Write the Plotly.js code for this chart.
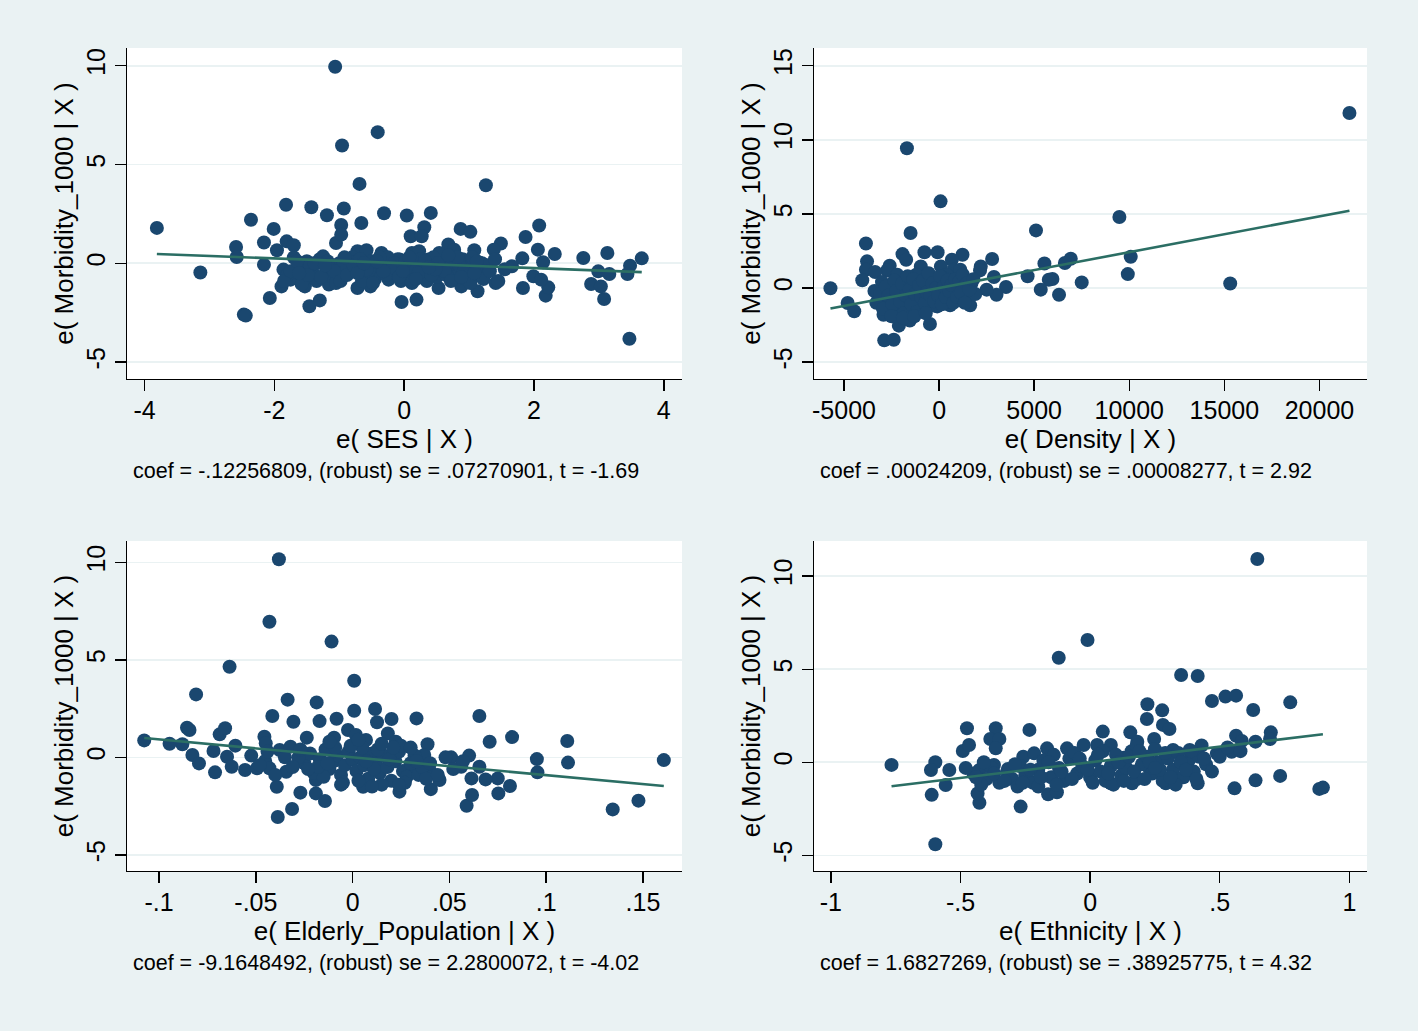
<!DOCTYPE html>
<html><head><meta charset="utf-8">
<script src="https://cdn.plot.ly/plotly-3.0.1.min.js"></script>
<style>html,body{margin:0;padding:0;background:#eaf2f3;}#chart{width:1418px;height:1031px;}</style>
</head><body><div id="chart"></div>
<script>
// ---- Panel 1: e(SES | X)
const sesX = [-1.063,-0.408,-0.957,-0.688,1.259,-3.81,-3.14,-2.47,-2.44,3.47,-1.82,-1.43,-1.19,-0.93,-2.36,-2.01,-0.97,-0.66,-0.31,0.04,0.41,0.31,0.10,0.27,0.87,1.02,2.08,1.87,-2.16,-2.59,-2.58,-2.16,-1.96,-1.81,-1.70,-2.07,-1.46,-1.30,-0.04,0.19,0.53,1.83,2.18,2.22,3.08,2.88,3.03,2.76,3.13,3.66,3.48,3.44,3.16,2.99,2.32,2.06,1.82,1.66,1.99,2.11,2.14,1.49,1.38,1.41,1.13,0.88,1.08,0.68,0.77,1.16,-0.72,-0.52,-0.24,-1.89,-1.75,-1.86,-1.53,-1.16,-1.05,-0.97,-0.72,-0.58,-0.35,-0.07,0.12,0.23,0.37,0.54,
-1.6,-1.5,-1.4,-1.3,-1.2,-1.1,-1.0,-0.9,-0.8,-0.7,-0.6,-0.5,-0.4,-0.3,-0.2,-0.1,0.0,0.1,0.2,0.3,0.4,0.5,0.6,0.7,0.8,0.9,1.0,1.1,1.2,-1.55,-1.35,-1.25,-1.05,-0.85,-0.65,-0.45,-0.25,-0.05,0.15,0.35,0.45,0.65,0.75,0.95,1.05,1.25,-1.7,-1.45,-0.95,-0.55,-0.15,0.25,0.55,0.85,1.15,-1.8,1.3,1.4,
-1.85,-1.75,-1.65,-1.58,-1.48,-1.38,-1.28,-1.18,-1.08,-0.98,-0.88,-0.78,-0.68,-0.58,-0.48,-0.38,-0.28,-0.18,-0.08,0.02,0.12,0.22,0.32,0.42,0.52,0.62,0.72,0.82,0.92,1.02,1.12,1.22,1.32,1.45,1.55,-1.22,-0.72,-0.32,0.08,0.48,0.88,-0.42,-0.92,0.18,0.68,1.08,-1.62,-0.02,0.38,-0.62];
const sesY = [9.95,6.64,5.96,4.02,3.95,1.79,-0.47,-2.60,-2.65,-3.82,2.96,2.84,2.43,2.77,2.20,1.74,1.94,2.04,2.53,2.42,2.55,1.82,1.37,1.37,1.74,1.59,1.91,1.33,1.05,0.83,0.32,-0.07,0.66,1.11,0.91,-1.76,-2.18,-1.88,-1.96,-1.84,-1.25,-1.25,-1.64,-1.22,-1.81,-1.05,-1.17,0.27,0.52,0.25,-0.12,-0.54,-0.54,-0.41,0.47,0.69,0.25,-0.15,-0.66,-0.83,0.05,1.00,0.69,-1.00,-1.42,-1.17,0.66,0.95,0.69,0.02,-1.25,-1.17,-0.83,-1.17,-0.83,-0.32,-1.17,-1.08,1.03,1.45,0.61,0.66,0.52,0.19,0.52,0.61,0.19,0.52,
-0.2,0.1,-0.5,0.2,-0.3,-0.7,0.0,-0.4,0.3,-0.2,-0.6,0.1,-0.3,-0.1,-0.5,0.2,-0.2,-0.6,0.0,-0.4,-0.1,-0.7,0.1,-0.3,-0.5,0.2,-0.2,-0.6,0.0,-0.8,-0.9,0.35,-1.0,0.1,-0.9,-0.8,0.3,-0.9,-0.3,-0.9,0.3,-0.6,0.0,-0.8,0.3,-0.5,0.3,-0.1,-0.2,-0.4,0.0,0.2,-0.2,-0.1,-0.3,-0.6,-0.1,0.2,
-0.9,-0.4,0.1,-1.05,-0.6,0.0,-0.7,0.1,-0.4,-0.9,-0.6,-0.1,0.2,-0.3,-1.0,0.3,-0.6,-0.2,-0.7,0.1,-1.0,-0.5,0.1,-0.6,0.0,-0.4,-0.9,0.3,-0.4,-1.0,0.1,-0.8,-0.4,-0.9,-0.3,-0.1,-0.5,-0.4,0.3,-0.3,-0.7,0.1,0.3,-0.8,0.4,-0.5,-0.5,-0.4,-0.2,0.0];
const sesFitX = [-3.81, 3.66];
const sesFitY = [0.47, -0.45];

// ---- Panel 2: e(Density | X)
const denX = [21577,-1692,77,9481,5096,-1500,-3846,15307,10077,9923,7500,6923,6615,5538,5961,5769,5346,6307,4654,3519,3019,2884,2788,2192,2153,1231,-77,-769,-1923,-1731,-2596,-2731,-3788,-3846,-3365,-4038,-5712,-4808,-4461,-2884,-2384,-2115,-1538,-481,-2923,1634,577,-96,673,769,1115,-961,96,2500,
-3200,-2900,-2700,-2500,-2300,-2100,-1900,-1700,-1500,-1300,-1100,-900,-700,-500,-300,-100,100,300,500,700,900,1100,1300,1500,1700,-2600,-2000,-1400,-800,-200,400,1000,-1800,-1200,-600,0,600,1200,-3000,-2200,-1600,-1000,-400,200,800,1400,1900,-3400,-2400,-1000,
-3300,-3100,-2950,-2800,-2650,-2450,-2350,-2250,-2050,-1950,-1850,-1750,-1650,-1550,-1450,-1350,-1250,-1150,-1050,-950,-850,-750,-650,-550,-450,-350,-250,-150,-50,50,150,250,350,450,550,650,750,850,950,1050,1150,1250,1350,1450,1600,1800,-2500,-1900,-1300,-700];
const denY = [11.81,9.43,5.85,4.79,3.89,3.71,3.01,0.31,2.11,0.94,0.38,1.98,1.69,1.66,0.61,0.56,-0.11,-0.45,0.79,0.07,-0.45,0.74,1.96,1.46,1.19,2.25,2.41,2.41,2.29,1.91,1.51,1.19,1.80,1.24,1.08,0.52,-0.02,-1.01,-1.57,-3.53,-3.49,-2.54,-2.20,-2.43,-1.80,-1.17,-1.17,-1.24,1.91,1.24,1.24,1.46,1.46,-0.11,
-0.8,-0.3,-1.2,0.2,-0.6,-1.4,0.6,-0.2,-0.9,0.3,-0.5,-1.3,0.8,0.0,-0.7,0.5,-0.3,-1.0,0.4,-0.4,0.1,-0.8,0.6,-0.2,0.3,-0.9,0.0,-1.5,-0.1,-1.2,0.9,-0.1,-0.7,0.9,-0.8,0.2,-0.9,0.1,0.4,0.9,0.4,-0.2,0.6,0.7,-0.5,-0.6,-0.4,-0.2,-1.6,-1.0,
-1.0,-0.4,-1.4,0.1,-0.5,-1.1,0.5,-0.2,-0.9,0.3,-1.7,-0.5,0.8,-0.1,-1.1,0.6,-0.4,-1.6,0.2,-0.6,0.5,-1.0,-0.3,1.0,-0.5,0.3,-0.9,0.0,-0.5,0.8,-1.1,0.1,-0.6,0.5,-0.2,0.2,-1.0,0.6,-0.6,0.4,-0.3,0.9,-1.0,0.3,-0.1,0.6,-1.9,-2.0,-1.9,-1.7];
const denFitX = [-5712, 21577];
const denFitY = [-1.38, 5.22];

// ---- Panel 3: e(Elderly_Population | X)
const eldX = [-0.0381,-0.0430,-0.0109,-0.0636,0.0008,-0.0809,-0.0336,-0.0186,0.0008,0.0116,-0.0415,-0.0306,-0.0171,-0.0083,0.0126,0.0201,0.0330,0.0655,0.0824,0.0708,0.1109,0.1113,0.0952,0.0955,0.1608,0.1344,0.1477,0.0813,0.0753,0.0750,0.0589,0.0617,0.0614,0.0602,0.0655,0.0687,0.0509,0.0561,0.0387,0.0370,0.0402,0.0404,-0.0387,-0.0313,-0.0392,-0.0270,-0.0190,-0.0143,-0.1077,-0.0946,-0.0880,-0.0856,-0.0843,-0.0828,-0.0794,-0.0719,-0.0711,-0.0687,-0.0659,-0.0606,-0.0649,-0.0625,-0.0556,-0.0524,-0.0494,-0.0456,-0.0449,-0.0452,-0.0430,-0.0377,-0.0343,-0.0321,-0.0237,-0.0190,-0.0096,-0.0024,0.0017,0.0069,0.0182,0.0223,0.0242,0.0054,0.0298,0.0449,
-0.025,-0.022,-0.020,-0.017,-0.014,-0.012,-0.010,-0.008,-0.006,-0.004,-0.002,0.000,0.002,0.004,0.006,0.008,0.010,0.012,0.014,0.016,0.018,0.020,0.022,0.024,0.026,0.028,0.030,0.032,0.034,0.036,-0.015,-0.005,0.005,0.015,0.025,-0.018,-0.001,0.011,0.019,0.027,-0.023,-0.009,0.003,0.013,0.033,-0.028,-0.013,0.007,0.021,0.038,
-0.048,-0.044,-0.040,-0.035,-0.031,-0.027,0.040,0.044,0.048,0.052,0.057,0.030,0.024,0.010,-0.006,0.015,-0.012,0.003];
const eldY = [10.16,6.96,5.94,4.65,3.93,3.23,2.96,2.82,2.39,2.48,2.12,1.83,1.86,1.98,1.80,1.97,2.00,2.12,1.04,0.80,0.84,-0.27,-0.09,-0.77,-0.14,-2.67,-2.22,-1.47,-1.85,-1.08,-2.48,-1.93,-1.08,0.09,-0.48,-1.13,0.00,-0.48,0.67,0.12,-0.74,-1.63,-3.06,-2.65,-1.51,-1.81,-1.85,-2.24,0.87,0.70,0.67,1.52,1.40,0.12,-0.31,0.33,-0.77,1.18,1.49,0.60,0.03,-0.48,-0.65,0.09,-0.56,1.06,0.72,-0.19,-0.56,0.38,-0.74,0.55,1.01,-1.16,1.01,1.40,1.15,0.89,1.23,0.80,-1.76,-1.51,-0.48,-1.16,
-0.3,0.2,-0.8,-0.1,0.4,-0.6,-0.2,0.1,-0.9,-0.4,0.3,-0.1,-0.7,0.0,-0.4,-1.1,0.2,-0.3,-0.8,0.1,-0.5,-1.2,-0.2,0.3,-0.7,-1.0,-0.3,0.1,-0.9,-0.5,-1.0,-1.3,0.5,-1.4,0.6,-0.5,0.6,-0.6,-0.1,-1.3,-0.6,0.5,-1.2,0.4,-0.2,0.0,-0.3,-0.2,0.5,-1.1,
-0.4,0.3,-0.9,0.0,-0.5,0.4,-0.3,-0.9,0.0,-0.6,-0.2,0.5,-1.4,-1.5,-1.4,0.7,0.8,0.9];
const eldFitX = [-0.1077, 0.1608];
const eldFitY = [0.99, -1.47];

// ---- Panel 4: e(Ethnicity | X)
const ethX = [0.645,-0.010,-0.121,0.351,0.415,0.470,0.522,0.563,0.772,0.629,0.221,0.219,0.278,0.281,0.306,0.155,0.049,0.080,0.563,0.585,0.697,0.694,0.638,0.430,0.447,0.415,0.557,0.638,0.733,0.884,0.898,0.546,-0.766,-0.597,-0.614,-0.597,-0.611,-0.557,-0.543,-0.475,-0.491,-0.467,-0.364,-0.385,-0.350,-0.364,-0.234,-0.427,-0.434,-0.268,-0.162,-0.128,-0.166,-0.089,-0.025,0.027,-0.258,-0.216,-0.427,-0.371,-0.317,0.080,0.162,0.292,0.331,0.182,0.247,0.320,0.384,0.489,0.130,0.228,0.377,
-0.45,-0.40,-0.38,-0.35,-0.32,-0.30,-0.27,-0.25,-0.22,-0.20,-0.18,-0.15,-0.12,-0.10,-0.08,-0.05,-0.03,0.00,0.02,0.04,0.06,0.08,0.10,0.12,0.14,0.16,0.18,0.20,0.22,0.24,0.26,0.28,0.30,0.32,0.34,0.36,0.38,0.40,-0.28,-0.42,-0.06,0.09,0.25,0.33,0.18,-0.14,0.42,0.05,-0.20,0.27,
-0.48,-0.44,-0.41,-0.37,-0.33,-0.29,-0.26,-0.23,-0.19,-0.16,-0.13,-0.11,-0.07,-0.04,-0.01,0.01,0.03,0.07,0.11,0.13,0.15,0.17,0.19,0.21,0.23,0.25,0.29,0.31,0.35,0.37,0.39,0.41,0.44,0.47,0.50,0.53,0.58];
const ethY = [10.92,6.57,5.62,4.69,4.64,3.29,3.53,3.58,3.22,2.81,3.12,2.33,2.79,2.01,1.79,1.61,1.65,0.93,1.43,1.15,1.61,1.25,1.11,0.90,-0.11,-1.13,-1.40,-0.97,-0.73,-1.43,-1.36,0.57,-0.14,0.00,-0.41,-4.40,-1.75,-1.22,-0.41,1.83,0.61,0.93,1.83,1.25,1.25,0.75,1.74,-2.17,-1.67,-2.38,-1.72,-1.61,0.75,0.75,0.93,0.93,0.30,0.48,-0.41,-0.14,-0.36,-1.13,-1.13,-1.13,-0.86,1.11,1.25,0.66,0.66,0.48,0.25,-0.32,-0.32,
-0.6,-0.9,-0.3,-1.1,-0.5,-0.9,-0.2,-0.7,-1.1,-0.4,0.1,-0.8,-0.3,-1.0,0.2,-0.6,-0.2,-0.8,0.1,-0.5,-1.0,-0.2,0.4,-0.7,-0.3,0.6,-0.9,-0.1,0.3,-0.6,0.0,-1.0,0.2,-0.4,0.5,-0.8,0.1,-0.5,-1.3,-1.2,0.5,-1.2,0.7,-1.2,0.9,0.4,0.3,0.6,-1.3,-0.4,
-0.3,-0.8,0.0,-0.6,-1.0,-0.1,-1.1,-0.4,-0.8,0.0,-1.2,-0.5,-0.9,0.2,-0.4,-1.1,0.4,-0.6,0.0,-1.0,0.3,-0.5,0.6,-0.9,0.0,-0.3,0.5,-0.8,0.0,-0.4,0.6,-0.9,0.2,-0.5,0.3,0.8,0.6];
const ethFitX = [-0.766, 0.898];
const ethFitY = [-1.29, 1.51];

// ---- Texts
const xTitles = ['e( SES | X )', 'e( Density | X )', 'e( Elderly_Population | X )', 'e( Ethnicity | X )'];
const yTitle = 'e( Morbidity_1000 | X )';
const notes = [
  'coef = -.12256809, (robust) se = .07270901, t = -1.69',
  'coef = .00024209, (robust) se = .00008277, t = 2.92',
  'coef = -9.1648492, (robust) se = 2.2800072, t = -4.02',
  'coef = 1.6827269, (robust) se = .38925775, t = 4.32'
];
const xTickVals = [[-4,-2,0,2,4],[-5000,0,5000,10000,15000,20000],[-0.1,-0.05,0,0.05,0.1,0.15],[-1,-0.5,0,0.5,1]];
const xTickText = [['-4','-2','0','2','4'],['-5000','0','5000','10000','15000','20000'],['-.1','-.05','0','.05','.1','.15'],['-1','-.5','0','.5','1']];
const yTickVals = [[-5,0,5,10],[-5,0,5,10,15],[-5,0,5,10],[-5,0,5,10]];
const yTickText = [['-5','0','5','10'],['-5','0','5','10','15'],['-5','0','5','10'],['-5','0','5','10']];

// ---- Styling / layout
const W = 1418, H = 1031;
const FONT = 'Liberation Sans, Arial, Helvetica, sans-serif';
const MARK = '#1a476f', FIT = '#2b6e64', BG = '#eaf2f3';
const boxes = [ // pixel boxes [left,right,top,bottom]
  [127, 682, 48, 379], [814, 1367, 48, 379],
  [127, 682, 541, 871], [814, 1367, 541, 871]
];
const xRanges = [[-4.27,4.28],[-6577,22500],[-0.1166,0.1702],[-1.065,1.068]];
const yRanges = [[-5.86,10.9],[-6.14,16.2],[-5.83,11.1],[-5.84,11.89]];

const pts = [[sesX,sesY],[denX,denY],[eldX,eldY],[ethX,ethY]];
const fits = [[sesFitX,sesFitY],[denFitX,denFitY],[eldFitX,eldFitY],[ethFitX,ethFitY]];

const traces = [];
const layout = {
  width: W, height: H, margin: {l:0,r:0,t:0,b:0},
  paper_bgcolor: BG, plot_bgcolor: '#ffffff', showlegend: false,
  font: {family: FONT, color: '#000000'},
  annotations: []
};
for (let i = 0; i < 4; i++) {
  const s = i === 0 ? '' : String(i+1);
  traces.push({type:'scatter', mode:'markers', x: pts[i][0], y: pts[i][1], xaxis:'x'+s, yaxis:'y'+s,
    marker:{color:MARK, size:14, line:{width:0}}, hoverinfo:'skip'});
  traces.push({type:'scatter', mode:'lines', x: fits[i][0], y: fits[i][1], xaxis:'x'+s, yaxis:'y'+s,
    line:{color:FIT, width:2.6}, hoverinfo:'skip'});
  const b = boxes[i];
  layout['xaxis'+s] = {
    domain:[b[0]/W, b[1]/W], anchor:'y'+s, range:xRanges[i],
    tickmode:'array', tickvals:xTickVals[i], ticktext:xTickText[i],
    showgrid:false, zeroline:false, showline:true, linecolor:'#000', linewidth:1.4,
    ticks:'outside', ticklen:11, tickwidth:1.4, tickcolor:'#000',
    tickfont:{size:25, family:FONT, color:'#000'}, ticklabelstandoff:-2,
    title:{text:xTitles[i], font:{size:26, family:FONT, color:'#000'}, standoff:0}
  };
  layout['yaxis'+s] = {
    domain:[1-b[3]/H, 1-b[2]/H], anchor:'x'+s, range:yRanges[i],
    tickmode:'array', tickvals:yTickVals[i], ticktext:yTickText[i], tickangle:-90,
    showgrid:true, gridcolor:BG, gridwidth:1.6, zeroline:false,
    showline:true, linecolor:'#000', linewidth:1.4,
    ticks:'outside', ticklen:11, tickwidth:1.4, tickcolor:'#000',
    tickfont:{size:25, family:FONT, color:'#000'}, ticklabelstandoff:0,
    title:{text:yTitle, font:{size:26, family:FONT, color:'#000'}, standoff:0}
  };
  layout.annotations.push({
    xref:'paper', yref:'paper', x:(b[0]+4)/W, y:1-(b[3]+92)/H, xanchor:'left', yanchor:'middle',
    text:notes[i], showarrow:false, font:{size:21.5, family:FONT, color:'#000'}
  });
}
Plotly.newPlot('chart', traces, layout, {staticPlot:true, displayModeBar:false});
</script></body></html>
